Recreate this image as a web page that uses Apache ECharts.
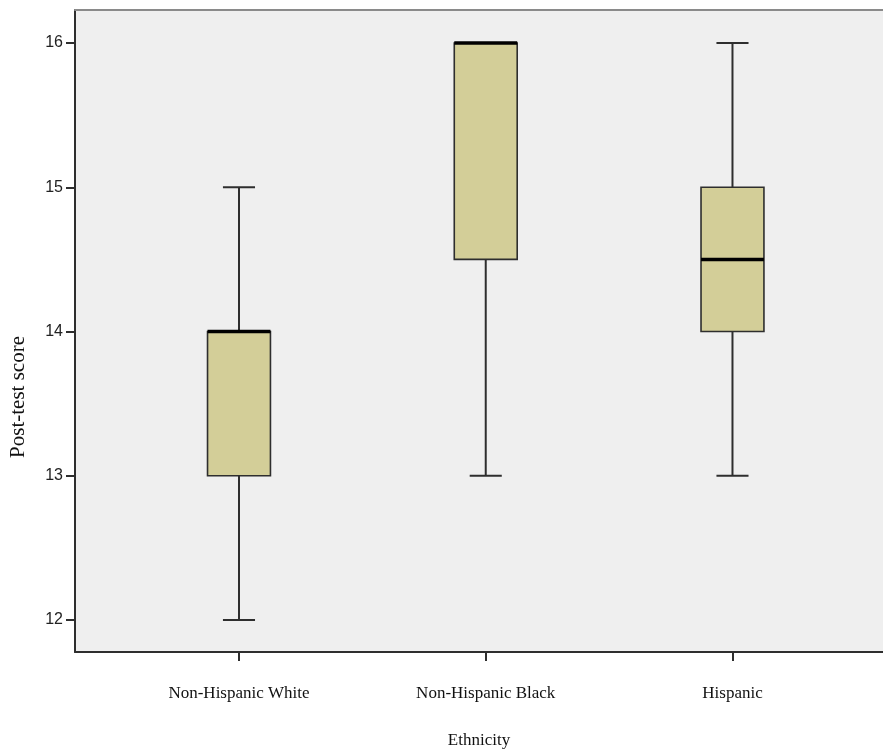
<!DOCTYPE html>
<html>
<head>
<meta charset="utf-8">
<script src="https://cdn.jsdelivr.net/npm/echarts@6/dist/echarts.min.js"></script>
<style>
  html, body { margin: 0; padding: 0; background: #ffffff; }
  #chart { width: 883px; height: 751px; }
</style>
</head>
<body>
<div id="chart"></div>
<script>
// Post-test scores by ethnicity: five-number summaries
const categories = ['Non-Hispanic White', 'Non-Hispanic Black', 'Hispanic'];
const minValues = [12, 13, 13];
const q1Values = [13, 14.5, 14];
const medianValues = [14, 16, 14.5];
const q3Values = [14, 16, 15];
const maxValues = [15, 16, 16];
const yTickValues = [12, 13, 14, 15, 16];
const xPositions = [1, 2, 3];

const boxData = categories.map((c, i) => [
  xPositions[i], minValues[i], q1Values[i], medianValues[i], q3Values[i], maxValues[i]
]);

const chart = echarts.init(document.getElementById('chart'), null, { renderer: 'canvas' });

const lineColor = '#2e2e2e';

function renderBox(params, api) {
  const x = api.value(0);
  const lo = api.coord([x, api.value(1)]);
  const q1 = api.coord([x, api.value(2)]);
  const med = api.coord([x, api.value(3)]);
  const q3 = api.coord([x, api.value(4)]);
  const hi = api.coord([x, api.value(5)]);
  const unit = api.size([1, 0])[0];
  const bw = unit * 0.255;
  const cw = unit * 0.13;
  const cx = lo[0];
  const wStyle = { stroke: lineColor, lineWidth: 2 };
  return {
    type: 'group',
    children: [
      { type: 'line', shape: { x1: cx, y1: hi[1], x2: cx, y2: q3[1] }, style: wStyle },
      { type: 'line', shape: { x1: cx, y1: q1[1], x2: cx, y2: lo[1] }, style: wStyle },
      { type: 'line', shape: { x1: cx - cw / 2, y1: hi[1], x2: cx + cw / 2, y2: hi[1] }, style: wStyle },
      { type: 'line', shape: { x1: cx - cw / 2, y1: lo[1], x2: cx + cw / 2, y2: lo[1] }, style: wStyle },
      {
        type: 'rect',
        shape: { x: cx - bw / 2, y: q3[1], width: bw, height: q1[1] - q3[1] },
        style: { fill: '#d3ce98', stroke: lineColor, lineWidth: 1.6 }
      },
      {
        type: 'line',
        shape: { x1: cx - bw / 2, y1: med[1], x2: cx + bw / 2, y2: med[1] },
        style: { stroke: '#000000', lineWidth: 3.5 }
      }
    ]
  };
}

chart.setOption({
  animation: false,
  backgroundColor: '#ffffff',
  grid: {
    left: 75, right: 0, top: 10, bottom: 99,
    containLabel: false,
    outerBoundsMode: 'none',
    show: true, backgroundColor: '#efefef', borderWidth: 0
  },
  xAxis: [
    {
      type: 'value',
      min: 0.3354,
      max: 3.61,
      position: 'bottom',
      splitLine: { show: false },
      axisLine: { show: true, onZero: false, lineStyle: { color: lineColor, width: 2 } },
      axisTick: { show: true, length: 9, customValues: xPositions, lineStyle: { color: lineColor, width: 2 } },
      axisLabel: {
        customValues: xPositions,
        margin: 33,
        color: '#111',
        fontFamily: 'Liberation Serif',
        fontSize: 17,
        formatter: v => categories[Math.round(v) - 1] || ''
      },
      name: 'Ethnicity',
      nameLocation: 'middle',
      nameGap: 80,
      nameTextStyle: { color: '#111', fontFamily: 'Liberation Serif', fontSize: 17 }
    },
    {
      type: 'value',
      min: 0.3354,
      max: 3.61,
      position: 'top',
      splitLine: { show: false },
      axisLine: { show: true, onZero: false, lineStyle: { color: '#8a8a8a', width: 2 } },
      axisTick: { show: false },
      axisLabel: { show: false }
    }
  ],
  yAxis: {
    type: 'value',
    min: 11.778,
    max: 16.229,
    splitLine: { show: false },
    axisLine: { show: true, onZero: false, lineStyle: { color: lineColor, width: 2 } },
    axisTick: { show: true, length: 9, customValues: yTickValues, lineStyle: { color: lineColor, width: 2 } },
    axisLabel: {
      customValues: yTickValues,
      margin: 12,
      color: '#222',
      fontFamily: 'Liberation Sans',
      fontSize: 16
    },
    name: 'Post-test score',
    nameLocation: 'middle',
    nameGap: 46,
    nameRotate: 90,
    nameTextStyle: {
      color: '#111', fontFamily: 'Liberation Serif', fontSize: 21,
      padding: [0, 132, 0, 0]
    }
  },
  series: [
    {
      type: 'custom',
      xAxisIndex: 0,
      renderItem: renderBox,
      encode: { x: 0, y: [1, 2, 3, 4, 5] },
      data: boxData
    }
  ]
});
</script>
</body>
</html>
